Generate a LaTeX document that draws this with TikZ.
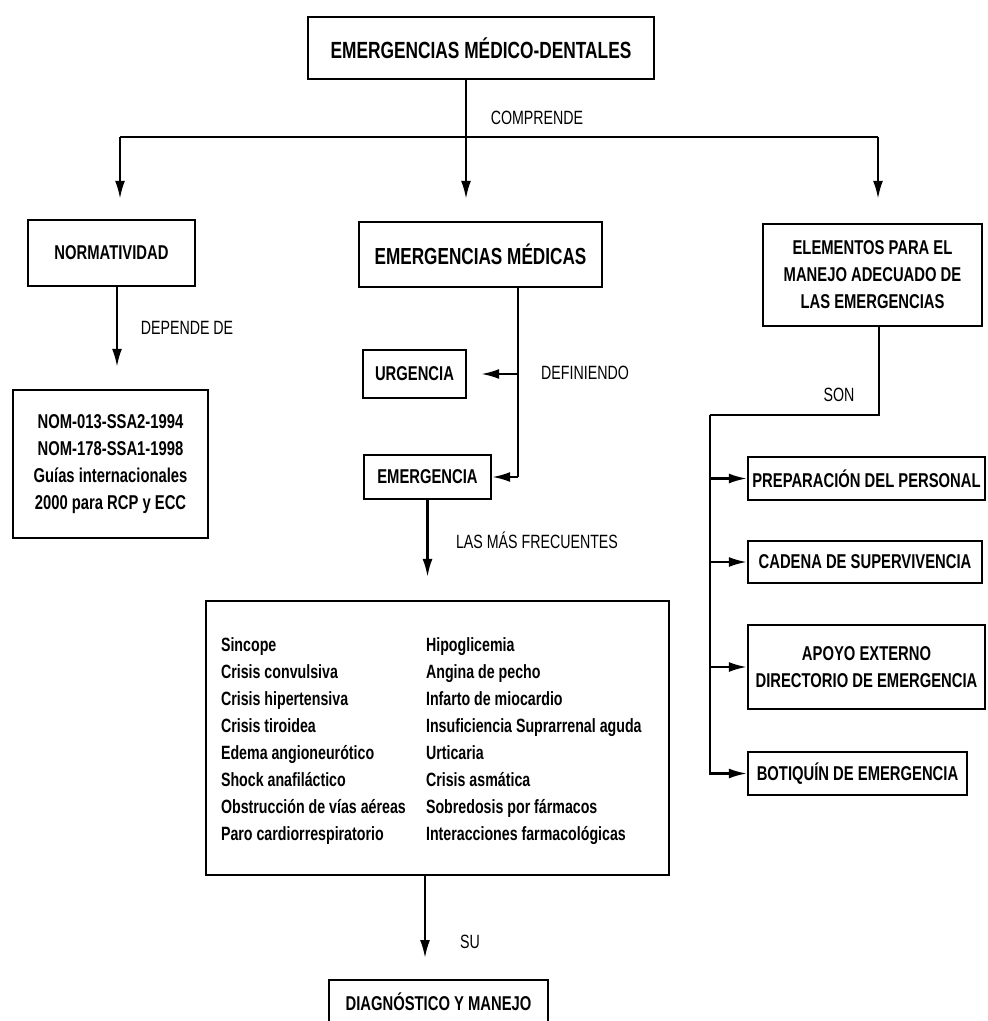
\documentclass[tikz,border=0pt]{standalone}
\usepackage{fontspec}
\setmainfont{Liberation Sans}[FakeStretch=0.74]
\usetikzlibrary{arrows.meta, positioning, calc}

\begin{document}
\begin{tikzpicture}[x=0.5pt, y=-0.5pt,
    box/.style={draw=black, line width=1.2pt, inner sep=2pt, align=center, font=\bfseries\fontsize{10}{13.5}\selectfont},
    lbl/.style={font=\fontsize{9.6}{12}\selectfont},
    arr/.style={line width=1.1pt, -{Latex[length=9pt, width=5pt]}},
    ln/.style={line width=1.1pt}
]
\useasboundingbox (0,0) rectangle (987,1021);
%% top level
\node[box, minimum width=173pt, minimum height=31pt, font=\bfseries\fontsize{11.7}{13.5}\selectfont] (top) at (481,48) {EMERGENCIAS MÉDICO-DENTALES};
\node[box, minimum width=83.5pt, minimum height=33pt] (norm) at (111.5,253) {NORMATIVIDAD};
\node[box, minimum width=121.5pt, minimum height=32.5pt, font=\bfseries\fontsize{11.6}{13.5}\selectfont] (medicas) at (480.5,254.5) {EMERGENCIAS MÉDICAS};
\node[box, minimum width=109.5pt, minimum height=51pt] (elem) at (872.5,275) {ELEMENTOS PARA EL\\MANEJO ADECUADO DE\\LAS EMERGENCIAS};
\coordinate (c0) at (466,137);
\coordinate (cL) at (120,137);
\coordinate (cR) at (878,137);
\draw[ln] (top.south -| c0) -- (c0);
\draw[ln] (cL) -- (cR);
\node[lbl] (comprende) at (537,118) {COMPRENDE};
\draw[arr, shorten >=10pt] (cL) -- (cL |- norm.north);
\draw[arr, shorten >=11pt] (c0) -- (c0 |- medicas.north);
\draw[arr, shorten >=12pt] (cR) -- (cR |- elem.north);
%% left branch
\node[box, minimum width=97.5pt, minimum height=74pt] (nom) at (110.5,464)
  {NOM-013-SSA2-1994\\NOM-178-SSA1-1998\\Guías internacionales\\2000 para RCP y ECC};
\coordinate (n1) at (117,0);
\draw[arr, shorten >=11pt] (norm.south -| n1) -- (nom.north -| n1);
\node[lbl] (depende) at (187,328) {DEPENDE DE};
%% middle branch
\node[box, minimum width=51.5pt, minimum height=24pt] (urgencia) at (414.5,374) {URGENCIA};
\node[box, minimum width=63.5pt, minimum height=22pt] (emergencia) at (427.5,477) {EMERGENCIA};
\coordinate (m1) at (518,374);
\coordinate (m2) at (518,477);
\draw[ln] (medicas.south -| m1) -- (m2);
\draw[arr, shorten >=7pt] (m1) -- (urgencia.east);
\draw[arr] (m2) -- (emergencia.east);
\node[lbl] (definiendo) at (585,373) {DEFINIENDO};
\node[box, minimum width=231.5pt, minimum height=137pt] (lista) at (437.5,738) {};
\node[lbl] (frecuentes) at (537,540) {LAS MÁS FRECUENTES};
\draw[arr, shorten >=11.5pt] (emergencia.south) -- (emergencia.south |- lista.north);
\node[anchor=west, align=left, font=\bfseries\fontsize{9.6}{13.5}\selectfont] (colA) at (214,741)
  {Sincope\\Crisis convulsiva\\Crisis hipertensiva\\Crisis tiroidea\\Edema angioneurótico\\Shock anafiláctico\\Obstrucción de vías aéreas\\Paro cardiorrespiratorio};
\node[anchor=west, align=left, font=\bfseries\fontsize{9.6}{13.5}\selectfont] (colB) at (419,741)
  {Hipoglicemia\\Angina de pecho\\Infarto de miocardio\\Insuficiencia Suprarrenal aguda\\Urticaria\\Crisis asmática\\Sobredosis por fármacos\\Interacciones farmacológicas};
\node[box, minimum width=109.5pt, minimum height=22pt] (diag) at (438.5,1002) {DIAGNÓSTICO Y MANEJO};
\coordinate (su) at (425,958);
\draw[arr] (lista.south -| su) -- (su);
\node[lbl] (sulbl) at (470,942) {SU};
%% right branch
\node[box, minimum width=118.5pt, minimum height=21.5pt] (prep) at (866.5,478.5) {PREPARACIÓN DEL PERSONAL};
\node[box, minimum width=117pt, minimum height=21pt] (cadena) at (865,562) {CADENA DE SUPERVIVENCIA};
\node[box, minimum width=118.5pt, minimum height=42pt] (apoyo) at (866.5,667) {APOYO EXTERNO\\DIRECTORIO DE EMERGENCIA};
\node[box, minimum width=109.5pt, minimum height=21.5pt] (botiquin) at (857.5,773.5) {BOTIQUÍN DE EMERGENCIA};
\coordinate (e1) at (879,415);
\coordinate (e2) at (710,415);
\draw[ln] (elem.south -| e1) -- (e1) -- (e2);
\draw[arr] (e2) |- (botiquin.west);
\foreach \b in {prep, cadena, apoyo}{
  \draw[arr] (e2 |- \b.west) -- (\b.west);
}
\node[lbl] (son) at (839,395) {SON};
\end{tikzpicture}
\end{document}
